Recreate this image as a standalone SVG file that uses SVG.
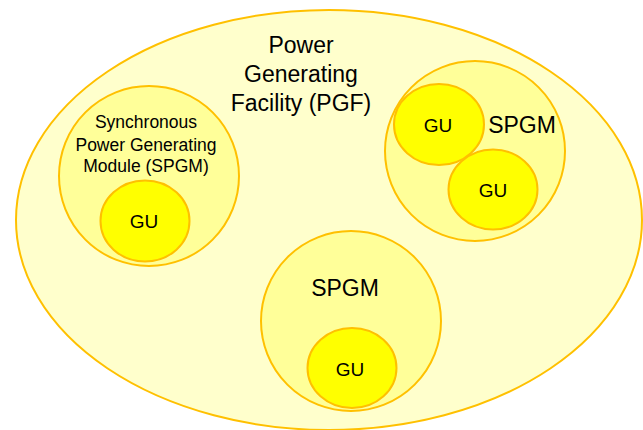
<svg xmlns="http://www.w3.org/2000/svg" width="643" height="430" viewBox="0 0 643 430">
  <style>
    .pgf { fill: #FFFFCC; stroke: #FFC000; stroke-width: 2; }
    .spgm { fill: #FFFF99; stroke: #FFC000; stroke-width: 2; }
    .gu { fill: #FFFF00; stroke: #FFC000; stroke-width: 2; }
    text { font-family: "Liberation Sans", Arial, sans-serif; fill: #000; text-anchor: middle; }
    .big { font-size: 23px; }
    .mid { font-size: 17.5px; }
    .gut { font-size: 19px; }
  </style>
  <rect width="643" height="430" fill="#FFFFFF"/>
  <g id="pgf">
    <ellipse class="pgf" cx="329" cy="220" rx="313" ry="210"/>
    <text class="big" x="301" y="53">Power</text>
    <text class="big" x="301" y="82">Generating</text>
    <text class="big" x="301" y="111">Facility (PGF)</text>
  </g>
  <g id="spgm-left">
    <ellipse class="spgm" cx="149" cy="176" rx="90" ry="90"/>
    <text class="mid" x="146" y="128">Synchronous</text>
    <text class="mid" x="146" y="151">Power Generating</text>
    <text class="mid" x="146" y="172">Module (SPGM)</text>
  </g>
  <g id="gu-left">
    <ellipse class="gu" cx="145" cy="221" rx="44.5" ry="40.5"/>
    <text class="gut" x="144" y="228">GU</text>
  </g>
  <g id="spgm-right">
    <ellipse class="spgm" cx="475" cy="151" rx="90" ry="90"/>
    <text class="big" x="522" y="133">SPGM</text>
  </g>
  <g id="gu-right-1">
    <ellipse class="gu" cx="439" cy="124.5" rx="45" ry="40.5"/>
    <text class="gut" x="438" y="132">GU</text>
  </g>
  <g id="gu-right-2">
    <ellipse class="gu" cx="493" cy="189.5" rx="44.5" ry="40"/>
    <text class="gut" x="493" y="197">GU</text>
  </g>
  <g id="spgm-bottom">
    <ellipse class="spgm" cx="351" cy="321" rx="90" ry="90"/>
    <text class="big" x="345" y="296">SPGM</text>
  </g>
  <g id="gu-bottom">
    <ellipse class="gu" cx="352" cy="368" rx="44.5" ry="40"/>
    <text class="gut" x="350" y="376">GU</text>
  </g>
  <g id="connectors"/>
</svg>
